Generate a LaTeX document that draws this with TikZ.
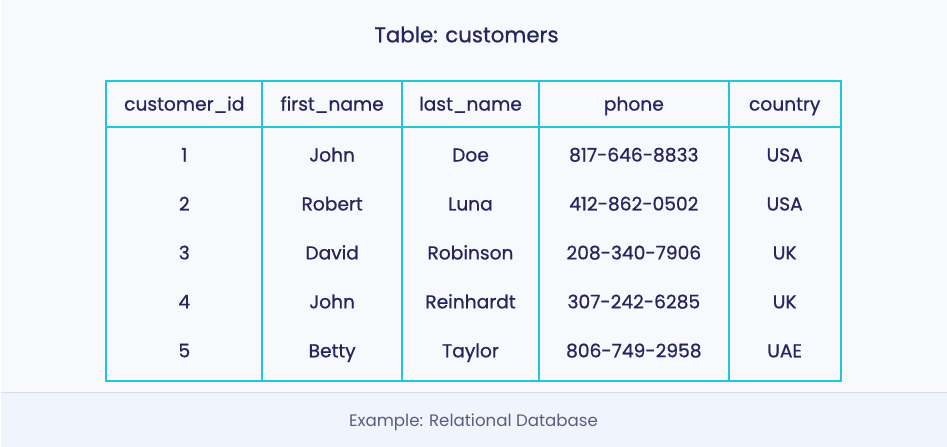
\documentclass[tikz,border=0pt]{standalone}
\usepackage{fontspec}
\setmainfont{Poppins}
\newfontfamily\tableFont{Poppins}[FakeBold=0.8]
\usepackage{xcolor}
\usetikzlibrary{calc}

\definecolor{pageBg}{HTML}{F8F9FC}
\definecolor{bandBg}{HTML}{F0F4FC}
\definecolor{bandLine}{HTML}{DADDE8}
\definecolor{tableLine}{HTML}{1CC8DA}
\definecolor{textNavy}{HTML}{25265E}
\definecolor{captionGrey}{HTML}{5B5C7E}

\tikzset{
	cell/.style={text=textNavy, font=\tableFont\fontsize{14}{16}\selectfont, anchor=center,
		inner sep=0pt, text height=10pt, text depth=3pt, yshift=-1.5pt},
	grid/.style={draw=tableLine, line width=1.5pt}
}

\begin{document}
\begin{tikzpicture}[x=0.75pt,y=-0.75pt]
	\newcommand{\tableLeft}{106}
	\newcommand{\tableRight}{841}
	\newcommand{\tableTop}{81}
	\newcommand{\headBottom}{127}
	\newcommand{\tableBottom}{381}
	\newcommand{\rowStep}{49}

	% background and caption band
	\fill[pageBg] (0,0) rectangle (947,447);
	\fill[bandBg] (0,393) rectangle (947,447);
	\draw[bandLine, line width=0.75pt] (0,393) -- (947,393);
	\useasboundingbox (0,0) rectangle (947,447);

	\node (title) [text=textNavy, font=\tableFont\fontsize{16}{19}\selectfont,
		text height=11.5pt, text depth=3.5pt, inner sep=0pt] at (466.5,37) {Table: customers};
	\node (caption) [text=captionGrey, font=\fontsize{12.5}{15}\selectfont,
		text height=9pt, text depth=3pt, inner sep=0pt] at (473.5,423) {Example: Relational Database};

	% table frame
	\coordinate (top_left) at (\tableLeft,\tableTop);
	\coordinate (bottom_right) at (\tableRight,\tableBottom);
	\draw[grid] (top_left) rectangle (bottom_right);
	\draw[grid] (\tableLeft,\headBottom) -- (\tableRight,\headBottom);
	\foreach \x in {262,402,539,729}
		\draw[grid] (\x,\tableTop) -- (\x,\tableBottom);

	% header row
	\node (head_id) [cell] at (184,104) {customer\_id};
	\node (head_first) [cell] at (332,104) {first\_name};
	\node (head_last) [cell] at (470.5,104) {last\_name};
	\node (head_phone) [cell] at (634,104) {phone};
	\node (head_country) [cell] at (785,104) {country};

	% data rows
	\foreach \r/\id/\first/\last/\phone/\country in {
		1/1/John/Doe/817-646-8833/USA,
		2/2/Robert/Luna/412-862-0502/USA,
		3/3/David/Robinson/208-340-7906/UK,
		4/4/John/Reinhardt/307-242-6285/UK,
		5/5/Betty/Taylor/806-749-2958/UAE}
	{
		\pgfmathsetmacro{\rowY}{155+(\r-1)*\rowStep}
		\node (id_\r) [cell] at (184,\rowY) {\id};
		\node (first_\r) [cell] at (332,\rowY) {\first};
		\node (last_\r) [cell] at (470.5,\rowY) {\last};
		\node (phone_\r) [cell] at (634,\rowY) {\phone};
		\node (country_\r) [cell] at (785,\rowY) {\country};
	}
\end{tikzpicture}
\end{document}
